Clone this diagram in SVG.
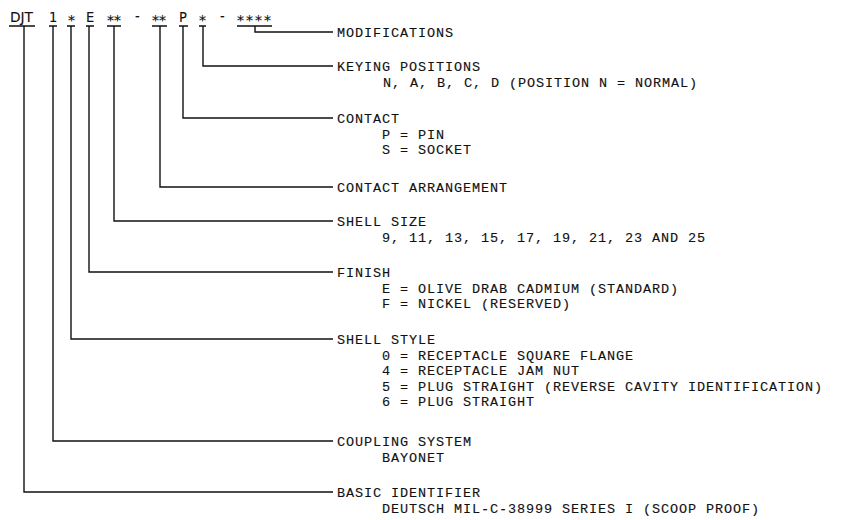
<svg xmlns="http://www.w3.org/2000/svg" width="851" height="520" viewBox="0 0 851 520">
<style>
text{font-family:"Liberation Mono","DejaVu Sans Mono",monospace;font-size:13.5px;letter-spacing:0.9px;fill:#111;stroke:#111;stroke-width:0.12px}
.c{font-family:"DejaVu Sans Condensed","DejaVu Sans",sans-serif;font-size:14.5px;letter-spacing:0}
.a{font-family:"DejaVu Sans","Liberation Sans",sans-serif;font-size:14px;letter-spacing:0}
.ln{fill:none;stroke:#111;stroke-width:1.4}
</style>
<rect width="851" height="520" fill="#fff"/>
<g id="code">
<text class="c" x="10" y="22" textLength="23" lengthAdjust="spacingAndGlyphs">DJT</text>
<text class="c" x="49" y="22">1</text>
<text class="a" x="68" y="25">*</text>
<text class="c" x="86" y="22">E</text>
<text class="a" x="107" y="25" textLength="14" lengthAdjust="spacing">**</text>
<text class="c" x="135" y="21">-</text>
<text class="a" x="152" y="25" textLength="14" lengthAdjust="spacing">**</text>
<text class="c" x="179" y="22">P</text>
<text class="a" x="199" y="25">*</text>
<text class="c" x="220" y="21">-</text>
<text class="a" x="237" y="25" textLength="34" lengthAdjust="spacing">****</text>
</g>
<g id="connectors" class="ln">
<path d="M237 26H272M255 26V32H333"/>
<path d="M199 26H206M203 26V66H333"/>
<path d="M179 26H188M183 26V118H333"/>
<path d="M152 26H167M160 26V187H333"/>
<path d="M107 26H121M114 26V221H333"/>
<path d="M86 26H94M89 26V272H333"/>
<path d="M67 26H75M71 26V339H333"/>
<path d="M49 26H57M53 26V441H333"/>
<path d="M9 26H35M24 26V492H333"/>
</g>
<g id="modifications">
<text x="337" y="37">MODIFICATIONS</text>
</g>
<g id="keying">
<text x="337" y="71">KEYING POSITIONS</text>
<text x="383" y="87">N, A, B, C, D (POSITION N = NORMAL)</text>
</g>
<g id="contact">
<text x="337" y="123">CONTACT</text>
<text x="382" y="138.5">P = PIN</text>
<text x="382" y="154">S = SOCKET</text>
</g>
<g id="arrangement">
<text x="337" y="192">CONTACT ARRANGEMENT</text>
</g>
<g id="shellsize">
<text x="337" y="226">SHELL SIZE</text>
<text x="382" y="241.5">9, 11, 13, 15, 17, 19, 21, 23 AND 25</text>
</g>
<g id="finish">
<text x="337" y="277">FINISH</text>
<text x="382" y="292.5">E = OLIVE DRAB CADMIUM (STANDARD)</text>
<text x="382" y="308">F = NICKEL (RESERVED)</text>
</g>
<g id="shellstyle">
<text x="337" y="344">SHELL STYLE</text>
<text x="382" y="359.5">0 = RECEPTACLE SQUARE FLANGE</text>
<text x="382" y="375">4 = RECEPTACLE JAM NUT</text>
<text x="382" y="390.5">5 = PLUG STRAIGHT (REVERSE CAVITY IDENTIFICATION)</text>
<text x="382" y="406">6 = PLUG STRAIGHT</text>
</g>
<g id="coupling">
<text x="337" y="446">COUPLING SYSTEM</text>
<text x="382" y="462">BAYONET</text>
</g>
<g id="basic">
<text x="337" y="497">BASIC IDENTIFIER</text>
<text x="382" y="513">DEUTSCH MIL-C-38999 SERIES I (SCOOP PROOF)</text>
</g>
</svg>
